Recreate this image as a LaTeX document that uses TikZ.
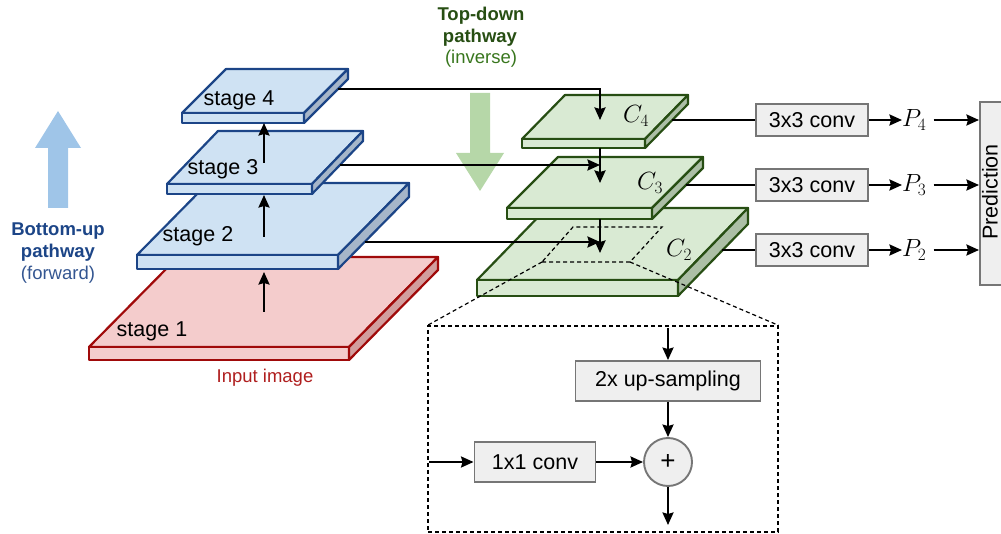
\documentclass[tikz,border=0pt]{standalone}
\usepackage{fontspec}
\setmainfont{Liberation Sans}
\usetikzlibrary{arrows.meta}

\definecolor{bluefill}{RGB}{207,226,243}
\definecolor{blueside}{RGB}{166,182,201}
\definecolor{blueedge}{RGB}{28,69,135}
\definecolor{redfill}{RGB}{244,204,204}
\definecolor{redside}{RGB}{210,158,158}
\definecolor{rededge}{RGB}{160,10,10}
\definecolor{greenfill}{RGB}{217,234,211}
\definecolor{greenside}{RGB}{172,191,166}
\definecolor{greenedge}{RGB}{39,78,19}
\definecolor{boxfill}{RGB}{239,239,239}
\definecolor{boxedge}{RGB}{118,118,118}
\definecolor{upblue}{RGB}{159,197,232}
\definecolor{downgreen}{RGB}{182,215,168}
\definecolor{titleblue}{RGB}{28,69,135}
\definecolor{fwdblue}{RGB}{52,86,145}
\definecolor{titlegreen}{RGB}{39,78,19}
\definecolor{invgreen}{RGB}{56,118,29}
\definecolor{inputred}{RGB}{175,30,30}

% one feature-map slab: front-left x, front-right x, front-top y,
% thickness, depth dx, depth dy, colour set
\newcommand\drawslab[7]{%
  \filldraw[#7 top] (#1,#3) -- (#2,#3) -- ({#2+#5},{#3-#6}) -- ({#1+#5},{#3-#6}) -- cycle;
  \filldraw[#7 top] (#1,#3) rectangle (#2,{#3+#4});
  \filldraw[#7 side] (#2,#3) -- ({#2+#5},{#3-#6}) -- ({#2+#5},{#3-#6+#4}) -- (#2,{#3+#4}) -- cycle;
}

\begin{document}
\begin{tikzpicture}[x=1pt,y=-1pt,
  slabline/.style={line width=2.2pt,line join=round},
  blue top/.style={slabline,fill=bluefill,draw=blueedge},
  blue side/.style={slabline,fill=blueside,draw=blueedge},
  red top/.style={slabline,fill=redfill,draw=rededge},
  red side/.style={slabline,fill=redside,draw=rededge},
  green top/.style={slabline,fill=greenfill,draw=greenedge},
  green side/.style={slabline,fill=greenside,draw=greenedge},
  conn/.style={line width=2.2pt,-{Stealth[length=12.5pt,width=11pt,inset=1.5pt]}},
  plainline/.style={line width=2.2pt},
  dashline/.style={line width=1.2pt,dash pattern=on 4pt off 3pt},
  sanstext/.style={inner sep=0pt,font=\fontsize{21.5}{24}\selectfont},
  mathlabel/.style={inner sep=0pt,font=\fontsize{26}{28}\selectfont},
  titletext/.style={inner sep=0pt,font=\fontsize{18.5}{22}\selectfont\bfseries},
  subtext/.style={inner sep=0pt,font=\fontsize{18.5}{22}\selectfont},
  procbox/.style={draw=boxedge,fill=boxfill,line width=1.9pt,inner sep=0pt,
    font=\fontsize{21.5}{24}\selectfont},
]
\clip (0,0) rectangle (1001,534);

% pathway arrows
\fill[upblue] (48,208) -- (48,148) -- (35,148) -- (58,111) -- (81,148) -- (68,148) -- (68,208) -- cycle;
\fill[downgreen] (470,93) -- (490,93) -- (490,153) -- (504,153) -- (480,191) -- (456,153) -- (470,153) -- cycle;

% pathway titles
\node[titletext,text=titleblue,anchor=base] (bu1) at (58,236) {Bottom-up};
\node[titletext,text=titleblue,anchor=base] (bu2) at (58,258) {pathway};
\node[subtext,text=fwdblue,anchor=base] (bu3) at (58,280) {(forward)};
\node[titletext,text=titlegreen,anchor=base] (td1) at (481,21) {Top-down};
\node[titletext,text=titlegreen,anchor=base] (td2) at (480,43) {pathway};
\node[subtext,text=invgreen,anchor=base] (td3) at (481,64) {(inverse)};

% bottom-up stack
\drawslab{89}{349}{347}{13}{89}{90}{red}
\drawslab{137}{338}{255}{14}{71}{72}{blue}
\drawslab{167}{312}{184}{10}{51}{53}{blue}
\drawslab{182}{304}{113}{10}{44}{44}{blue}

% top-down stack
\drawslab{477}{678}{280}{16}{70}{72}{green}
\drawslab{507}{652}{208}{11}{51}{51}{green}
\drawslab{522}{645}{139}{9}{43}{44}{green}

% stage labels
\node[sanstext,anchor=base] (st4) at (239,106) {stage 4};
\node[sanstext,anchor=base] (st3) at (223,175) {stage 3};
\node[sanstext,anchor=base] (st2) at (198,242) {stage 2};
\node[sanstext,anchor=base] (st1) at (152,337) {stage 1};
\node[subtext,text=inputred,anchor=base] (inp) at (265,383) {Input image};

\node[mathlabel,anchor=base] (lc4) at (636,123) {$C_4$};
\node[mathlabel,anchor=base] (lc3) at (650,190) {$C_3$};
\node[mathlabel,anchor=base] (lc2) at (679,257) {$C_2$};

% bottom-up arrows
\coordinate (s1t) at (264,312); \coordinate (s2b) at (264,272);
\coordinate (s2t) at (264,237); \coordinate (s3b) at (264,195);
\coordinate (s3t) at (264,163); \coordinate (s4b) at (264,123);
\draw[conn] (s1t) -- (s2b);
\draw[conn] (s2t) -- (s3b);
\draw[conn] (s3t) -- (s4b);

% lateral connections and top-down arrows
\coordinate (s4o) at (338,89);  \coordinate (c4in) at (600,120);
\coordinate (s3o) at (340,165); \coordinate (c3in) at (600,165);
\coordinate (s2o) at (365,242); \coordinate (c2in) at (600,242);
\coordinate (c4b) at (600,148); \coordinate (c3t) at (600,183);
\coordinate (c3b) at (600,219); \coordinate (c2t) at (600,253);
\draw[conn] (s4o) -| (c4in);
\draw[conn] (s3o) -- (c3in);
\draw[conn] (s2o) -- (c2in);
\draw[conn] (c4b) -- (c3t);
\draw[conn] (c3b) -- (c2t);

% zoomed region on C2
\coordinate (zbl) at (542,262); \coordinate (zbr) at (630,262);
\coordinate (ztr) at (662,227); \coordinate (ztl) at (573,227);
\draw[dashline] (zbl) -- (zbr) -- (ztr) -- (ztl) -- cycle;

% heads
\node[procbox,minimum width=112pt,minimum height=32pt] (conv4) at (812,120) {3x3 conv};
\node[procbox,minimum width=112pt,minimum height=32pt] (conv3) at (812,185) {3x3 conv};
\node[procbox,minimum width=112pt,minimum height=32pt] (conv2) at (812,250) {3x3 conv};
\coordinate (c4o) at (672,120);
\coordinate (c3o) at (686,185);
\coordinate (c2o) at (722,250);
\draw[plainline] (c4o) -- (conv4.west);
\draw[plainline] (c3o) -- (conv3.west);
\draw[plainline] (c2o) -- (conv2.west);

\node[mathlabel,anchor=west] (p4) at (902,120) {$P_4$};
\node[mathlabel,anchor=west] (p3) at (902,185) {$P_3$};
\node[mathlabel,anchor=west] (p2) at (902,250) {$P_2$};
\draw[conn] (conv4.east) -- (p4.west);
\draw[conn] (conv3.east) -- (p3.west);
\draw[conn] (conv2.east) -- (p2.west);

\node[procbox,minimum width=60pt,minimum height=183pt,anchor=north west] (pred) at (979,101) {};
\node[sanstext,rotate=90] (predlbl) at (990,192) {Prediction};
\draw[conn,shorten <=7pt] (p4.east) -- (p4.east -| pred.west);
\draw[conn,shorten <=7pt] (p3.east) -- (p3.east -| pred.west);
\draw[conn,shorten <=7pt] (p2.east) -- (p2.east -| pred.west);

% merge block detail
\node[draw,dashline,minimum width=350pt,minimum height=206pt,inner sep=0pt] (detail) at (603,429) {};
\draw[dashline] (zbl) -- (detail.north west);
\draw[dashline] (zbr) -- (detail.north east);

\node[procbox,minimum width=185pt,minimum height=40pt] (ups) at (668,381) {2x up-sampling};
\node[procbox,minimum width=121pt,minimum height=40pt] (conv1) at (535,462) {1x1 conv};
\node[procbox,circle,minimum size=48pt,font=\fontsize{26}{28}\selectfont] (plus) at (668,462) {+};
\coordinate (topin) at (668,328);
\coordinate (leftin) at (429,462);
\coordinate (outb) at (668,525);
\draw[conn] (topin) -- (ups.north);
\draw[conn] (ups.south) -- (plus.north);
\draw[conn] (leftin) -- (conv1.west);
\draw[conn] (conv1.east) -- (plus.west);
\draw[conn] (plus.south) -- (outb);
\end{tikzpicture}
\end{document}
